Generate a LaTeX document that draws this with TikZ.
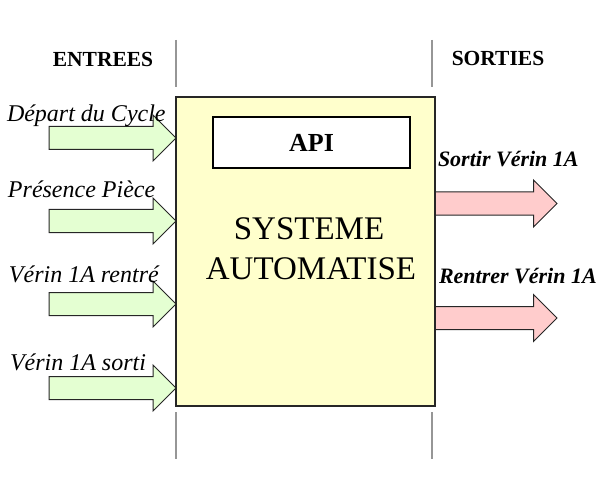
\documentclass[tikz,border=0pt]{standalone}
\usepackage{fontspec}
\setmainfont{Liberation Serif}
\usetikzlibrary{shapes.arrows, positioning}
\definecolor{sysyellow}{RGB}{255, 255, 204}
\definecolor{ingreen}{RGB}{228, 255, 210}
\definecolor{outpink}{RGB}{255, 204, 204}
\definecolor{sepgray}{RGB}{150, 150, 150}

\begin{document}
\begin{tikzpicture}[x=1pt, y=-1pt, every node/.style={inner sep=0pt, outer sep=0pt},
    inarrow/.style={single arrow, draw=black!85, line width=1pt, fill=ingreen, inner ysep=11pt, minimum height=127pt, single arrow head extend=11.5pt, anchor=tip},
    outarrow/.style={single arrow, draw=black!85, line width=1pt, fill=outpink, inner ysep=11pt, minimum height=123pt, single arrow head extend=12pt, anchor=tip},
    inlabel/.style={anchor=base west, font=\fontsize{24}{28}\selectfont\itshape},
    outlabel/.style={anchor=base west, font=\fontsize{22}{26}\selectfont\bfseries\itshape},
    heading/.style={anchor=base, font=\fontsize{21.5}{26}\selectfont\bfseries},
    sep/.style={sepgray, line width=1.3pt}]
        \useasboundingbox (0,0) rectangle (612,486);
        % separators
        \draw[sep] (176,40) -- (176,87);
        \draw[sep] (432,40) -- (432,87);
        \draw[sep] (176,412) -- (176,459);
        \draw[sep] (432,412) -- (432,459);
        \node (entrees) [heading] at (103,67) {ENTREES};
        \node (sorties) [heading] at (498,66) {SORTIES};
        % inputs and outputs
        \node (in1) [inarrow] at (176,138) {};
        \node (in2) [inarrow] at (176,221) {};
        \node (in3) [inarrow] at (176,304) {};
        \node (in4) [inarrow] at (176,388) {};
        \node (out1) [outarrow] at (557,203.5) {};
        \node (out2) [outarrow] at (557,318) {};
        \node (lblin1) [inlabel] at (7,122) {Départ du Cycle};
        \node (lblin2) [inlabel] at (8,197) {Présence Pièce};
        \node (lblin3) [inlabel] at (9,282) {Vérin 1A rentré};
        \node (lblin4) [inlabel] at (10,370.5) {Vérin 1A sorti};
        \node (lblout1) [outlabel] at (438,167) {Sortir Vérin 1A};
        \node (lblout2) [outlabel] at (439,283) {Rentrer Vérin 1A};
        % system
        \node (sys) [draw=black!85, line width=1.2pt, fill=sysyellow, minimum width=259pt, minimum height=309pt, anchor=north west] at (176,97) {};
        \node (api) [draw=black, line width=2pt, fill=white, minimum width=197pt, minimum height=51pt, anchor=north west] at (213,117) {};
        \node (apitxt) [font=\fontsize{26}{30}\selectfont\bfseries] at (api) {API};
        \node (systxt1) [anchor=base, font=\fontsize{33}{40}\selectfont] at (309,239) {SYSTEME};
        \node (systxt2) [anchor=base, font=\fontsize{33}{40}\selectfont] at (311,279) {AUTOMATISE};
    \end{tikzpicture}
\end{document}
